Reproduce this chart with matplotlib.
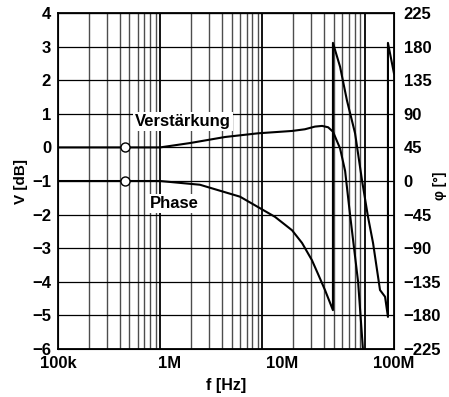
import matplotlib.pyplot as plt
import numpy as np

plt.rcParams['font.family'] = ['Liberation Sans', 'DejaVu Sans']
plt.rcParams['font.weight'] = 'bold'

# Verstaerkung (gain) in dB vs frequency in Hz
freq_gain = [100e3, 815e3, 1.51e6, 3.10e6, 6.11e6, 12.3e6, 16.0e6, 19.7e6, 22.8e6,
             25.8e6, 28.5e6, 33.0e6, 36.6e6, 40.5e6, 47.8e6, 52.8e6]
gain_db = [0.0, 0.0, 0.13, 0.31, 0.42, 0.49, 0.54, 0.62, 0.64,
           0.60, 0.47, -0.03, -0.7, -2.0, -4.0, -6.0]

# Phase in degrees vs frequency (wraps at +-180 shown as vertical jumps)
freq_phase = [100e3, 815e3, 1.85e6, 4.22e6, 8.66e6, 12.3e6, 15.1e6, 18.5e6, 20.9e6,
              24.2e6, 28.5e6, 28.5e6, 33.0e6, 38.0e6, 44.9e6, 51.8e6, 58.6e6,
              65.0e6, 75.0e6, 83.2e6, 88.3e6, 88.3e6, 100e6]
phase_deg = [0, 0, -5, -21, -48, -66, -83, -106, -124,
             -146, -173, 185, 153, 108, 64, 1, -48,
             -83, -146, -155, -182, 185, 144]

# marked reference points
marker_freq = 396e3
marker_gain = 0.0
marker_phase = 0.0

xticks = [1e5, 1e6, 1e7, 1e8]
xticklabels = ['100k', '1M', '10M', '100M']
gain_ticks = list(range(-6, 5))
phase_ticks = list(range(-225, 226, 45))


def fmt(v):
    return str(v).replace('-', '\u2212')


fig = plt.figure(figsize=(4.49, 3.97), dpi=100)
ax = fig.add_axes([0.1292, 0.1209, 0.7483, 0.8463])
ax.set_xscale('log')
ax.set_xlim(1e5, 1e8)
ax.set_ylim(-6, 4)

# the printed grid is compressed relative to the labels (decade ~0.91 of label spacing)
s = 0.9125
for d in [5, 6, 7, 8]:
    for m in range(1, 10):
        if d == 8 and m > 1:
            break
        pos = 10 ** (5 + s * (np.log10(m * 10 ** d) - 5))
        if m == 1:
            ax.axvline(pos, color='black', lw=1.3, zorder=1)
        else:
            ax.axvline(pos, color='#4d4d4d', lw=1.0, zorder=1)
for g in gain_ticks:
    ax.axhline(g, color='black', lw=0.9, zorder=1)

ax.plot(freq_gain, gain_db, color='black', lw=1.5, zorder=3)
ax.plot([marker_freq], [marker_gain], 'o', ms=6.5, mfc='white', mec='black', mew=1.0, zorder=5)

ax.set_xticks(xticks)
ax.set_xticklabels(xticklabels)
ax.xaxis.set_minor_locator(plt.NullLocator())
ax.set_yticks(gain_ticks)
ax.set_yticklabels([fmt(t) for t in gain_ticks])
ax.tick_params(axis='both', length=0, labelsize=12, pad=5)
for sp in ax.spines.values():
    sp.set_linewidth(1.3)

ax.set_ylabel('V [dB]', fontsize=11, fontweight='bold', labelpad=3)
ax.set_xlabel('f [Hz]', fontsize=11.5, fontweight='bold', labelpad=5)

ax.text(4.87e5, 0.76, 'Verstärkung', fontsize=12, fontweight='bold', ha='left', va='center',
        bbox=dict(facecolor='white', edgecolor='none', pad=1.5), zorder=4)
ax.text(6.63e5, -1.68, 'Phase', fontsize=12, fontweight='bold', ha='left', va='center',
        bbox=dict(facecolor='white', edgecolor='none', pad=1.5), zorder=4)

ax2 = ax.twinx()
ax2.set_ylim(-225, 225)
ax2.set_yticks(phase_ticks)
ax2.set_yticklabels([fmt(t) for t in phase_ticks])
ax2.tick_params(axis='y', length=0, labelsize=12, pad=7)
ax2.plot(freq_phase, phase_deg, color='black', lw=1.5, zorder=3)
ax2.plot([marker_freq], [marker_phase], 'o', ms=6.5, mfc='white', mec='black', mew=1.0, zorder=5)

fig.text(440 / 449, 1 - 186 / 397, 'φ [°]', fontsize=10, fontweight='bold',
         rotation=90, ha='center', va='center')

fig.savefig('out.png', dpi=100)
